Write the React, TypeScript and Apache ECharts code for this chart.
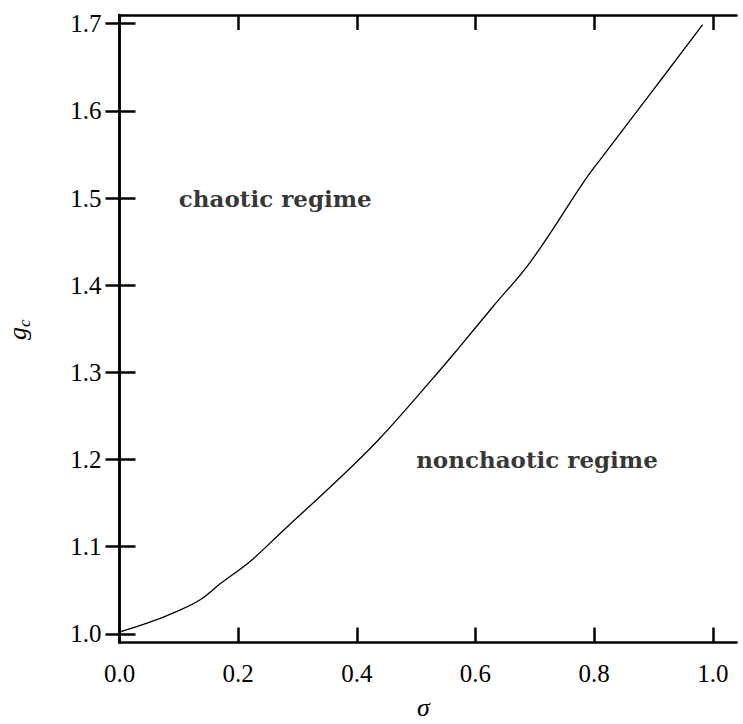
import React, { useEffect, useRef } from "react";
import * as echarts from "echarts";

const sigma = [0, 0.05, 0.096, 0.136, 0.169, 0.22, 0.269, 0.3825, 0.4386, 0.5256, 0.573, 0.629, 0.694, 0.784, 0.809, 0.893, 0.983];
const gc = [1.002, 1.013, 1.0255, 1.039, 1.057, 1.083, 1.114, 1.186, 1.224, 1.291, 1.329, 1.375, 1.428, 1.52, 1.543, 1.618, 1.699];
const xTicks = [0, 0.2, 0.4, 0.6, 0.8, 1.0];
const yTicks = [1.0, 1.1, 1.2, 1.3, 1.4, 1.5, 1.6, 1.7];
const annotations = [
  { x: 0.1, y: 1.5, text: "chaotic regime" },
  { x: 0.5, y: 1.2, text: "nonchaotic regime" },
];

const serif = "'Liberation Serif', serif";

export default function App() {
  const ref = useRef<HTMLDivElement>(null);
  useEffect(() => {
    if (!ref.current) return;
    const chart = echarts.init(ref.current, null, { renderer: "svg" });
    const axisLine = { show: true, lineStyle: { color: "#000", width: 2.5 } };
    const tickStyle = { color: "#000", width: 2.5 };
    chart.setOption({
      animation: false,
      backgroundColor: "#fff",
      grid: { left: 119.5, right: 6.5, top: 15, bottom: 81.5, containLabel: false },
      xAxis: [
        {
          type: "value", min: 0, max: 1.04, position: "bottom",
          axisLine, splitLine: { show: false },
          axisTick: { show: true, inside: true, length: 15, lineStyle: tickStyle, customValues: xTicks },
          axisLabel: { show: true, customValues: xTicks, margin: 18, fontFamily: serif, fontSize: 25, color: "#000", formatter: (v: number) => v.toFixed(1) },
        },
        {
          type: "value", min: 0, max: 1.04, position: "top",
          axisLine, splitLine: { show: false },
          axisTick: { show: true, inside: true, length: 15, lineStyle: tickStyle, customValues: xTicks },
          axisLabel: { show: false },
        },
      ],
      yAxis: [
        {
          type: "value", min: 0.99, max: 1.71, position: "left",
          axisLine, splitLine: { show: false },
          axisTick: { show: true, inside: true, length: 16, lineStyle: tickStyle, customValues: yTicks },
          axisLabel: { show: true, customValues: yTicks, margin: 18, fontFamily: serif, fontSize: 25, color: "#000", formatter: (v: number) => v.toFixed(1) },
        },
        {
          type: "value", min: 0.99, max: 1.71, position: "right",
          axisLine, splitLine: { show: false },
          axisTick: { show: true, inside: true, length: 14, lineStyle: tickStyle, customValues: yTicks },
          axisLabel: { show: false },
        },
      ],
      series: [
        {
          type: "line",
          xAxisIndex: 0, yAxisIndex: 0,
          data: sigma.map((s, i) => [s, gc[i]]),
          showSymbol: false, symbol: "none",
          smooth: 0.4,
          lineStyle: { color: "#000", width: 1.3 },
        },
        {
          type: "scatter",
          xAxisIndex: 0, yAxisIndex: 0,
          symbolSize: 0,
          data: annotations.map((a) => ({ value: [a.x, a.y], name: a.text })),
          label: {
            show: true, position: "right", distance: 0,
            formatter: (p: any) => p.name,
            fontFamily: "'DejaVu Serif', serif", fontWeight: "bold", fontSize: 23, color: "#000",
          },
        },
      ],
      graphic: [
        {
          type: "text", left: 417, top: 694,
          style: { text: "σ", fontFamily: serif, fontStyle: "italic", fontSize: 26, fill: "#000" },
        },
        {
          type: "group", x: 30, y: 340, rotation: Math.PI / 2,
          children: [
            { type: "text", x: 0, y: 0, style: { text: "g", fontFamily: serif, fontStyle: "italic", fontSize: 26, fill: "#000", textAlign: "left", textVerticalAlign: "bottom" } },
            { type: "text", x: 13, y: 3, style: { text: "c", fontFamily: serif, fontStyle: "italic", fontSize: 17, fill: "#000", textAlign: "left", textVerticalAlign: "bottom" } },
          ],
        },
      ],
    });
    return () => chart.dispose();
  }, []);
  return <div ref={ref} style={{ position: "fixed", left: 0, top: 0, width: 743, height: 724 }} />;
}
